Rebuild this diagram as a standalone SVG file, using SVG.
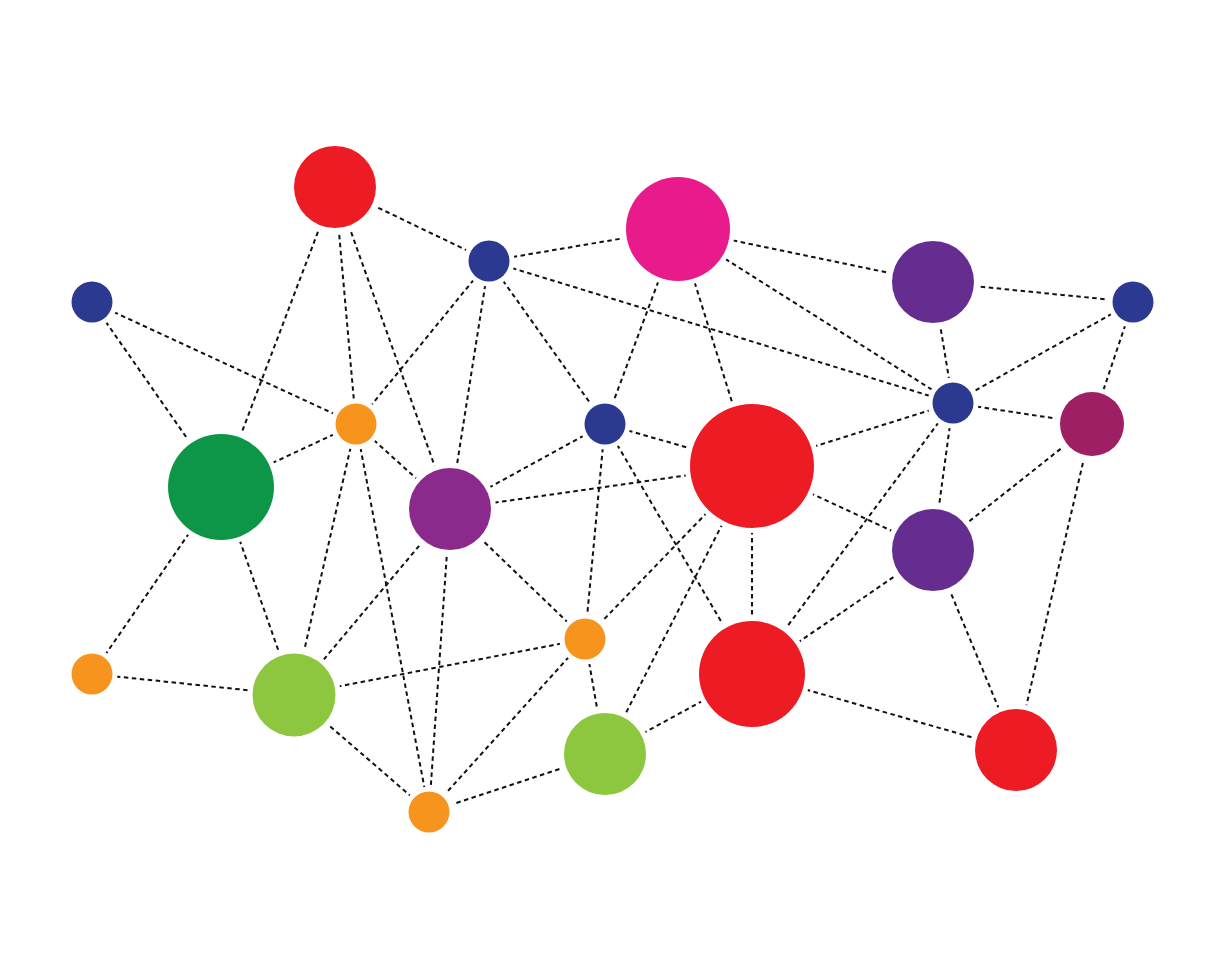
<svg xmlns="http://www.w3.org/2000/svg" width="1225" height="980" viewBox="0 0 1225 980">
<style>
.e{stroke:#111;stroke-width:2;stroke-dasharray:4.5 3.5;fill:none}
.n{stroke:#fff;stroke-width:10;paint-order:stroke}
.red{fill:#ED1C24}.navy{fill:#2B3990}.pink{fill:#E91A8C}.pur{fill:#662D91}.mar{fill:#9E1F63}
.grn{fill:#0E9648}.org{fill:#F7941D}.lg{fill:#8DC63F}.vio{fill:#8A2A8C}
</style>
<rect width="1225" height="980" fill="#fff"/>
<g id="connectors">
<line class="e" x1="335" y1="187" x2="489" y2="261"/>
<line class="e" x1="335" y1="187" x2="221" y2="487"/>
<line class="e" x1="335" y1="187" x2="356" y2="424"/>
<line class="e" x1="335" y1="187" x2="450" y2="509"/>
<line class="e" x1="489" y1="261" x2="678" y2="229"/>
<line class="e" x1="489" y1="261" x2="356" y2="424"/>
<line class="e" x1="489" y1="261" x2="450" y2="509"/>
<line class="e" x1="489" y1="261" x2="605" y2="424"/>
<line class="e" x1="489" y1="261" x2="953" y2="403"/>
<line class="e" x1="678" y1="229" x2="933" y2="282"/>
<line class="e" x1="678" y1="229" x2="953" y2="403"/>
<line class="e" x1="678" y1="229" x2="605" y2="424"/>
<line class="e" x1="678" y1="229" x2="752" y2="466"/>
<line class="e" x1="933" y1="282" x2="1133" y2="302"/>
<line class="e" x1="933" y1="282" x2="953" y2="403"/>
<line class="e" x1="1133" y1="302" x2="953" y2="403"/>
<line class="e" x1="1133" y1="302" x2="1092" y2="424"/>
<line class="e" x1="92" y1="302" x2="356" y2="424"/>
<line class="e" x1="92" y1="302" x2="221" y2="487"/>
<line class="e" x1="356" y1="424" x2="221" y2="487"/>
<line class="e" x1="356" y1="424" x2="450" y2="509"/>
<line class="e" x1="356" y1="424" x2="294" y2="695"/>
<line class="e" x1="356" y1="424" x2="429" y2="812"/>
<line class="e" x1="605" y1="424" x2="752" y2="466"/>
<line class="e" x1="605" y1="424" x2="450" y2="509"/>
<line class="e" x1="605" y1="424" x2="585" y2="639"/>
<line class="e" x1="605" y1="424" x2="752" y2="674"/>
<line class="e" x1="752" y1="466" x2="450" y2="509"/>
<line class="e" x1="752" y1="466" x2="953" y2="403"/>
<line class="e" x1="752" y1="466" x2="933" y2="550"/>
<line class="e" x1="752" y1="466" x2="752" y2="674"/>
<line class="e" x1="752" y1="466" x2="585" y2="639"/>
<line class="e" x1="752" y1="466" x2="605" y2="754"/>
<line class="e" x1="953" y1="403" x2="1092" y2="424"/>
<line class="e" x1="953" y1="403" x2="933" y2="550"/>
<line class="e" x1="953" y1="403" x2="752" y2="674"/>
<line class="e" x1="1092" y1="424" x2="933" y2="550"/>
<line class="e" x1="1092" y1="424" x2="1016" y2="750"/>
<line class="e" x1="221" y1="487" x2="92" y2="674"/>
<line class="e" x1="221" y1="487" x2="294" y2="695"/>
<line class="e" x1="450" y1="509" x2="294" y2="695"/>
<line class="e" x1="450" y1="509" x2="585" y2="639"/>
<line class="e" x1="450" y1="509" x2="429" y2="812"/>
<line class="e" x1="933" y1="550" x2="752" y2="674"/>
<line class="e" x1="933" y1="550" x2="1016" y2="750"/>
<line class="e" x1="585" y1="639" x2="294" y2="695"/>
<line class="e" x1="585" y1="639" x2="605" y2="754"/>
<line class="e" x1="585" y1="639" x2="429" y2="812"/>
<line class="e" x1="752" y1="674" x2="605" y2="754"/>
<line class="e" x1="752" y1="674" x2="1016" y2="750"/>
<line class="e" x1="92" y1="674" x2="294" y2="695"/>
<line class="e" x1="294" y1="695" x2="429" y2="812"/>
<line class="e" x1="605" y1="754" x2="429" y2="812"/>
</g>
<g id="n1"><circle class="n red" cx="335" cy="187" r="41"/></g>
<g id="n2"><circle class="n navy" cx="489" cy="261" r="20.5"/></g>
<g id="n3"><circle class="n pink" cx="678" cy="229" r="52"/></g>
<g id="n4"><circle class="n pur" cx="933" cy="282" r="41"/></g>
<g id="n5"><circle class="n navy" cx="1133" cy="302" r="20.5"/></g>
<g id="n6"><circle class="n navy" cx="92" cy="302" r="20.5"/></g>
<g id="n7"><circle class="n org" cx="356" cy="424" r="20.5"/></g>
<g id="n8"><circle class="n navy" cx="605" cy="424" r="20.5"/></g>
<g id="n9"><circle class="n red" cx="752" cy="466" r="62"/></g>
<g id="n10"><circle class="n navy" cx="953" cy="403" r="20.5"/></g>
<g id="n11"><circle class="n mar" cx="1092" cy="424" r="32"/></g>
<g id="n12"><circle class="n grn" cx="221" cy="487" r="53"/></g>
<g id="n13"><circle class="n vio" cx="450" cy="509" r="41"/></g>
<g id="n14"><circle class="n pur" cx="933" cy="550" r="41"/></g>
<g id="n15"><circle class="n org" cx="585" cy="639" r="20.5"/></g>
<g id="n16"><circle class="n red" cx="752" cy="674" r="53"/></g>
<g id="n17"><circle class="n org" cx="92" cy="674" r="20.5"/></g>
<g id="n18"><circle class="n lg" cx="294" cy="695" r="41.5"/></g>
<g id="n19"><circle class="n lg" cx="605" cy="754" r="41"/></g>
<g id="n20"><circle class="n red" cx="1016" cy="750" r="41"/></g>
<g id="n21"><circle class="n org" cx="429" cy="812" r="20.5"/></g>
</svg>
